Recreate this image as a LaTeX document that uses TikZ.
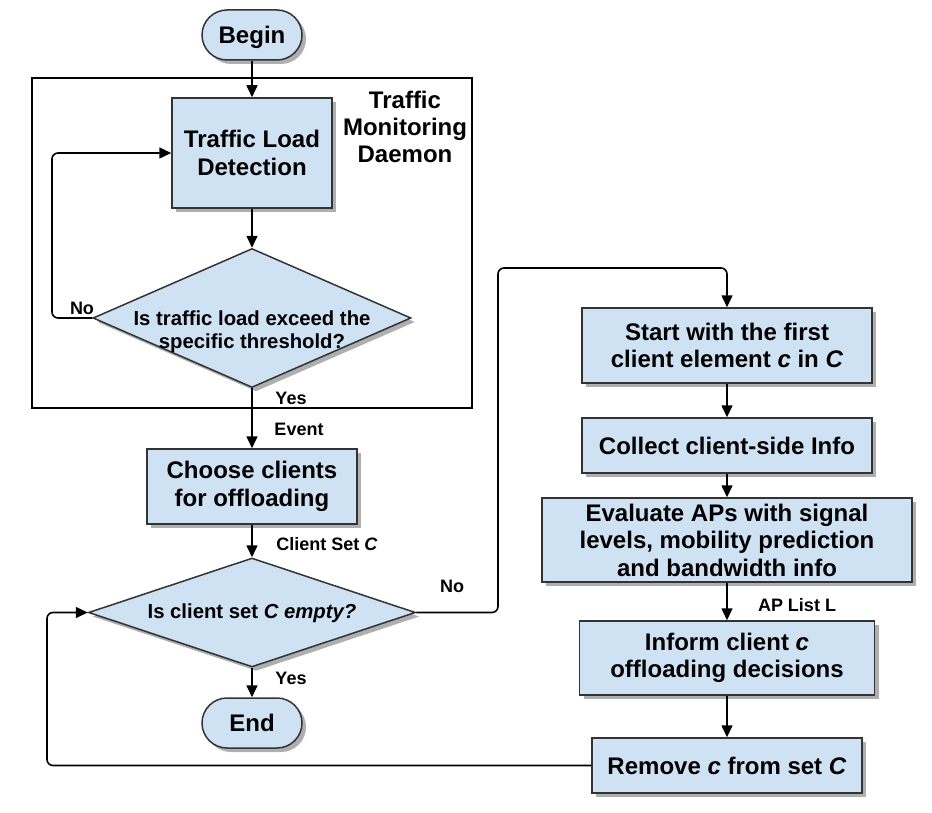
\documentclass[tikz,border=0pt]{standalone}
\usepackage{fontspec}
\setmainfont{Liberation Sans}
\usetikzlibrary{positioning, shapes.geometric, shadows, arrows.meta}
\definecolor{myblue}{RGB}{207,226,243}
\definecolor{myedge}{RGB}{51,51,51}
\definecolor{myshadow}{RGB}{175,175,175}

\begin{document}
\begin{tikzpicture}[x=1pt, y=-1pt,
	myshade/.style={drop shadow={shadow xshift=4pt, shadow yshift=-4pt, fill=myshadow, opacity=1}},
	box/.style={rectangle, draw=myedge, line width=1.5pt, fill=myblue, align=center, inner sep=0pt, myshade, font=\bfseries\fontsize{24}{27.5}\selectfont},
	term/.style={box, rounded corners=25pt, minimum width=100, minimum height=50, text depth=0pt},
	decision/.style={diamond, draw=myedge, line width=1.5pt, fill=myblue, inner sep=0pt, myshade},
	dtext/.style={align=center, inner sep=0pt, font=\bfseries\fontsize{20.3}{23}\selectfont},
	lbl/.style={inner sep=0pt, font=\bfseries\fontsize{18}{21}\selectfont},
	flow/.style={line width=1.6pt, -{Triangle[length=12pt, width=11pt]}, rounded corners=6pt}]

\useasboundingbox (0,0) rectangle (932,813);

%----------LEFT COLUMN-------------%
\node[term] (begin) at (252,35) {Begin};
\node[draw, line width=1.3pt, minimum width=440, minimum height=330, inner sep=0pt] (daemon) at (252,243) {};
\node[align=center, inner sep=0pt, font=\bfseries\fontsize{24}{27}\selectfont] (daemontxt) at (405,127) {Traffic\\Monitoring\\Daemon};
\node[box, minimum width=160, minimum height=110] (detect) at (252,153) {Traffic Load\\Detection};
\node[decision, minimum width=318, minimum height=139] (exceed) at (252,318) {};
\node[dtext] (exceedtxt) at (252,332) {Is traffic load exceed the\\specific threshold?};
\node[box, minimum width=210, minimum height=75] (choose) at (252,486.5) {Choose clients\\for offloading};
\node[decision, minimum width=327, minimum height=109] (empty) at (252,612.5) {};
\node[dtext] (emptytxt) at (252,613) {Is client set \textit{C empty?}};
\node[term] (end) at (252,723) {End};

%----------RIGHT COLUMN-------------%
\node[box, minimum width=290, minimum height=75] (start) at (727,345.5) {Start with the first\\client element \textit{c} in \textit{C}};
\node[box, minimum width=290, minimum height=55] (collect) at (727,445.5) {Collect client-side Info};
\node[box, minimum width=370, minimum height=84] (evaluate) at (727,540) {Evaluate APs with signal\\levels, mobility prediction\\and bandwidth info};
\node[box, minimum width=295, minimum height=74] (inform) at (727,658) {Inform client \textit{c}\\offloading decisions};
\node[box, minimum width=270, minimum height=55] (remove) at (727,765.5) {Remove \textit{c} from set \textit{C}};

%----------LABELS-------------%
\node[lbl] (no1) at (82,308) {No};
\node[lbl] (yes1) at (291,398) {Yes};
\node[lbl] (event) at (299,429) {Event};
\node[lbl] (clientset) at (327,544) {Client Set \textit{C}};
\node[lbl] (no2) at (452,586) {No};
\node[lbl] (yes2) at (291,678) {Yes};
\node[lbl] (aplist) at (797,605) {AP List L};

\coordinate (loopup) at (52,318);
\coordinate (nobend) at (498,268);
\coordinate (loopback) at (47,612.5);

%----------LINKS-------------%
\draw[flow] (begin) -- (detect);
\draw[flow] (detect) -- (exceed);
\draw[flow] (exceed.west) -- (loopup) |- (detect.west);
\draw[flow] (exceed) -- (choose);
\draw[flow] (choose) -- (empty);
\draw[flow] (empty) -- (end);
\draw[flow] (empty.east) -| (nobend) -| (start.north);
\draw[flow] (start) -- (collect);
\draw[flow] (collect) -- (evaluate);
\draw[flow] (evaluate) -- (inform);
\draw[flow] (inform) -- (remove);
\draw[flow] (remove.west) -| (loopback) -- (empty.west);

\end{tikzpicture}
\end{document}
